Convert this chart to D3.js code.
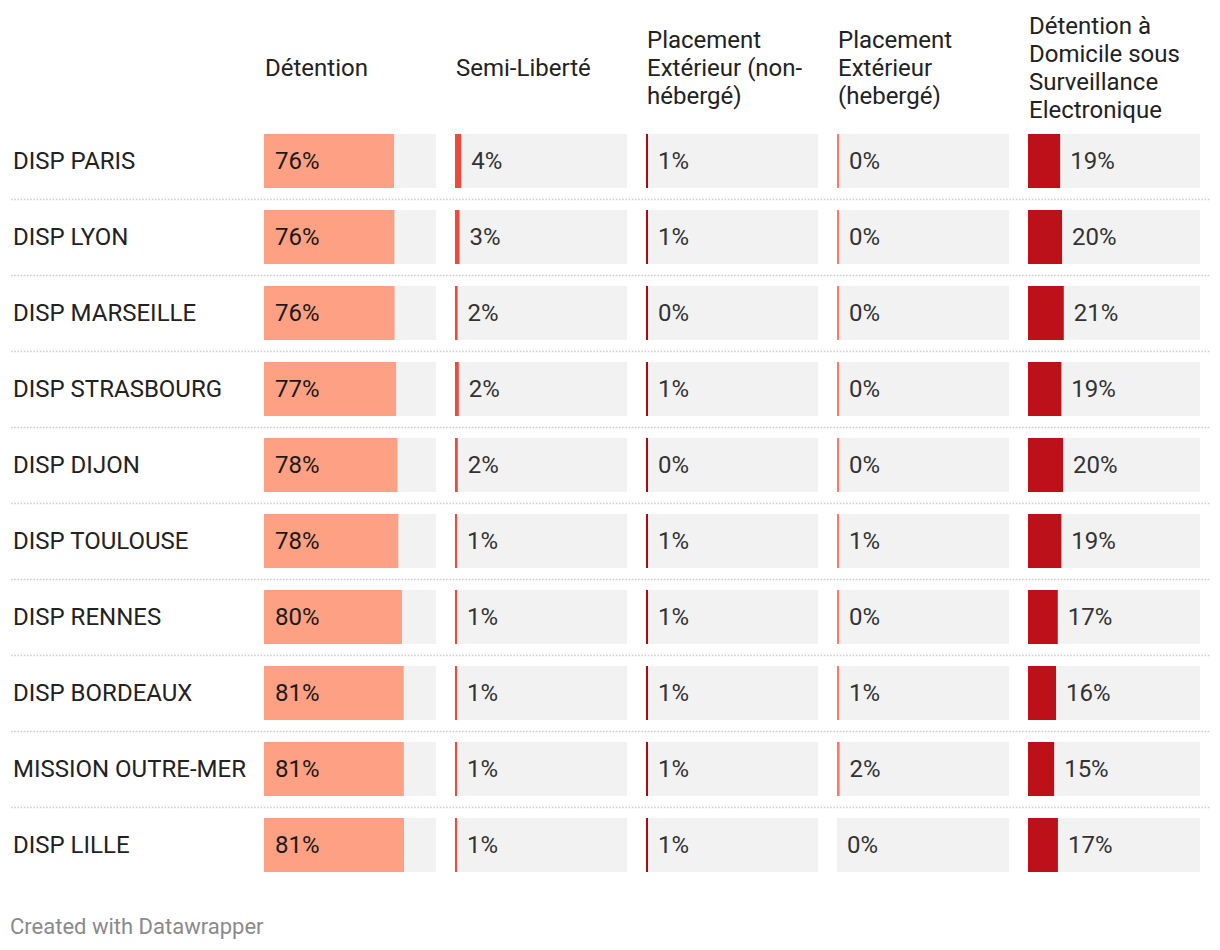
<!DOCTYPE html>
<html>
<head>
<meta charset="utf-8">
<script src="https://cdn.jsdelivr.net/npm/d3@7"></script>
<style>
  html, body { margin: 0; padding: 0; background: #fff; }
  svg { display: block; font-family: Roboto, "Noto Sans", sans-serif; }
</style>
</head>
<body>
<svg id="chart" width="1220" height="950"></svg>
<script>
// ---- data ----
const categories = ["DISP PARIS", "DISP LYON", "DISP MARSEILLE", "DISP STRASBOURG", "DISP DIJON",
  "DISP TOULOUSE", "DISP RENNES", "DISP BORDEAUX", "MISSION OUTRE-MER", "DISP LILLE"];
const seriesNames = ["Détention", "Semi-Liberté", "Placement Extérieur (non-hébergé)",
  "Placement Extérieur (hebergé)", "Détention à Domicile sous Surveillance Electronique"];
const headerLines = [
  ["Détention"],
  ["Semi-Liberté"],
  ["Placement", "Extérieur (non-", "hébergé)"],
  ["Placement", "Extérieur", "(hebergé)"],
  ["Détention à", "Domicile sous", "Surveillance", "Electronique"]
];
const detention    = [75.6, 75.8, 75.9, 76.8, 77.6, 78.1, 80.2, 81.2, 81.3, 81.4];
const semiLiberte  = [3.6, 2.6, 1.5, 2.2, 1.6, 1.1, 1.1, 1.1, 1.1, 1.1];
const placNonHeb   = [1.1, 1.1, 0.4, 1.1, 0.4, 1.1, 1.1, 1.1, 1.1, 1.1];
const placHeb      = [0.4, 0.4, 0.4, 0.4, 0.4, 1.1, 0.4, 1.1, 1.5, 0];
const ddse         = [18.7, 19.8, 20.8, 19.4, 20.4, 19.4, 17.3, 16.3, 15.2, 17.4];
const series = [detention, semiLiberte, placNonHeb, placHeb, ddse];
const colors = ["#fda083", "#ec4a3a", "#a30e12", "#fb7b62", "#bd1119"];
const footer = "Created with Datawrapper";

// ---- layout ----
const svg = d3.select("#chart");
const FS = 24;

const xCol = d3.scaleBand().domain(seriesNames).range([264, 1200]).paddingInner(19 / 191).paddingOuter(0);
const bw = xCol.bandwidth();
const xVal = d3.scaleLinear().domain([0, 100]).range([0, bw]);
const y = d3.scaleBand().domain(categories).range([123, 123 + 760])
  .paddingInner(22 / 76).paddingOuter(11 / 76);
const bh = y.bandwidth();
const fmt = v => d3.format(".0f")(v) + "%";

// headers
seriesNames.forEach((name, i) => {
  const lines = headerLines[i];
  const t = svg.append("text")
    .attr("x", xCol(name) + 1)
    .attr("font-size", FS)
    .attr("fill", "#222");
  lines.forEach((ln, j) => {
    t.append("tspan")
      .attr("x", xCol(name) + 1)
      .attr("y", 76 + (j - (lines.length - 1) / 2) * 28)
      .text(ln);
  });
});

// separators
categories.slice(0, -1).forEach(c => {
  svg.append("line")
    .attr("x1", 11).attr("x2", 1210)
    .attr("y1", y(c) + bh + 11.5).attr("y2", y(c) + bh + 11.5)
    .attr("stroke", "#cfcfcf").attr("stroke-width", 1.6)
    .attr("stroke-dasharray", "1.6,1.6");
});

// row labels
svg.append("g").selectAll("text").data(categories).join("text")
  .attr("x", 13)
  .attr("y", d => y(d) + bh / 2)
  .attr("dy", "0.34em")
  .attr("font-size", FS)
  .attr("fill", "#222")
  .text(d => d);

// columns
seriesNames.forEach((name, i) => {
  const g = svg.append("g").attr("transform", `translate(${xCol(name)},0)`);
  const data = series[i].map((v, k) => ({ c: categories[k], v }));
  g.selectAll("rect.bg").data(data).join("rect").attr("class", "bg")
    .attr("x", 0).attr("y", d => y(d.c))
    .attr("width", bw).attr("height", bh)
    .attr("fill", "#f2f2f2");
  const w = d => d.v > 0 ? Math.max(xVal(d.v), 2) : 0;
  g.selectAll("rect.bar").data(data).join("rect").attr("class", "bar")
    .attr("x", 0).attr("y", d => y(d.c))
    .attr("width", w).attr("height", bh)
    .attr("fill", colors[i]);
  g.selectAll("text").data(data).join("text")
    .attr("x", d => i === 0 ? 11 : w(d) + 10)
    .attr("y", d => y(d.c) + bh / 2)
    .attr("dy", "0.34em")
    .attr("font-size", FS)
    .attr("fill", i === 0 ? "#1a1a1a" : "#333")
    .text(d => fmt(d.v));
});

// footer
svg.append("text")
  .attr("x", 10).attr("y", 934)
  .attr("font-size", 22)
  .attr("fill", "#8a8a8a")
  .text(footer);
</script>
</body>
</html>
